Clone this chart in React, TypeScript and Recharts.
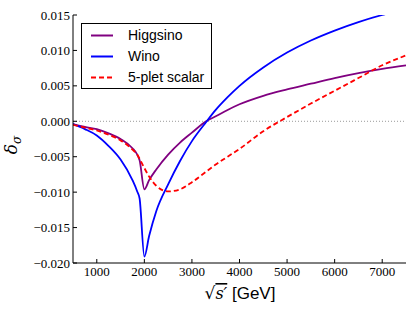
import { LineChart, Line, XAxis, YAxis, ReferenceLine, Legend } from "recharts";

const energy = [
  500, 750, 1000, 1250, 1500, 1750, 1850, 1900, 2000, 2100, 2250, 2500, 2750, 3000, 3300, 3500, 3750,
  4000, 4500, 5000, 5500, 6000, 6500, 7000, 7500,
];

const higgsino = [
  -0.0004, -0.0008, -0.0011, -0.0017, -0.0025, -0.0038, -0.0047, -0.0055, -0.0096, -0.0083, -0.0068,
  -0.0047, -0.003, -0.0016, 0.0, 0.0007, 0.0016, 0.0024, 0.0036, 0.0045, 0.0053, 0.0061, 0.0068,
  0.0074, 0.0079,
];

const wino = [
  -0.0004, -0.0011, -0.002, -0.0035, -0.0054, -0.0083, -0.0099, -0.0109, -0.0191, -0.0162, -0.0127,
  -0.0089, -0.0056, -0.0028, -0.0001, 0.0016, 0.0034, 0.005, 0.0076, 0.0097, 0.0114, 0.0128, 0.014,
  0.015, 0.0159,
];

const scalar5 = [
  -0.0005, -0.0009, -0.0013, -0.0019, -0.0027, -0.004, -0.0047, -0.0053, -0.0066, -0.0078, -0.0091,
  -0.0099, -0.0096, -0.0086, -0.0071, -0.0061, -0.005, -0.0039, -0.0014, 0.0006, 0.0025, 0.0043,
  0.0061, 0.0079, 0.0093,
];

const seriesNames = ["Higgsino", "Wino", "5-plet scalar"];
const xTicks = [1000, 2000, 3000, 4000, 5000, 6000, 7000];
const yTicks = [-0.02, -0.015, -0.01, -0.005, 0, 0.005, 0.01, 0.015];

const data = energy.map((e, i) => ({
  e,
  higgsino: higgsino[i],
  wino: wino[i],
  scalar5: scalar5[i],
}));

const tickFont = { fontFamily: "'Liberation Serif', serif", fontSize: 13, fill: "#000" };

const fmtY = (v: number) => v.toFixed(3).replace("-", "\u2212");

const LegendBox = ({ payload }: any) => {
  const items = [...(payload || [])].sort(
    (a: any, b: any) => seriesNames.indexOf(a.value) - seriesNames.indexOf(b.value)
  );
  return (
    <div
      style={{
        border: "1px solid #000",
        background: "#fff",
        width: 129,
        height: 64,
        fontFamily: "'Liberation Sans', Arial, sans-serif",
        fontSize: 14,
        lineHeight: "16px",
      }}
    >
      {items.map((p: any, i: number) => (
        <div key={p.value} style={{ position: "relative", height: 21, marginTop: i === 0 ? 1 : 0 }}>
          <svg width={40} height={21} style={{ position: "absolute", left: 0, top: 0 }}>
            <line
              x1={9}
              x2={31}
              y1={10.5}
              y2={10.5}
              stroke={p.color}
              strokeWidth={2}
              strokeDasharray={p.payload?.strokeDasharray}
            />
          </svg>
          <span style={{ position: "absolute", left: 46, top: 2, color: "#000", whiteSpace: "nowrap" }}>
            {p.value}
          </span>
        </div>
      ))}
    </div>
  );
};

export default function App() {
  return (
    <div style={{ position: "absolute", left: 0, top: 0 }}>
      <LineChart width={415} height={312} data={data} margin={{ top: 15, right: 9, bottom: 0, left: 0 }}>
        <XAxis
          dataKey="e"
          type="number"
          domain={[500, 7500]}
          ticks={xTicks}
          allowDataOverflow
          height={49}
          stroke="#000"
          tickSize={-4}
          tickMargin={8}
          tick={tickFont}
          label={{
            content: () => (
              <text x={240} y={299} textAnchor="middle" fill="#000">
                <tspan fontFamily="'DejaVu Serif', serif" fontSize={17}>
                  {"\u221A"}
                </tspan>
                <tspan
                  fontFamily="'DejaVu Serif', serif"
                  fontStyle="italic"
                  fontSize={16}
                  style={{ textDecoration: "overline" }}
                >
                  {"s\u2032"}
                </tspan>
                <tspan fontFamily="'Liberation Sans', Arial, sans-serif" fontSize={17}>
                  {" [GeV]"}
                </tspan>
              </text>
            ),
          }}
        />
        <XAxis
          xAxisId="top"
          dataKey="e"
          type="number"
          orientation="top"
          domain={[500, 7500]}
          ticks={xTicks}
          allowDataOverflow
          height={0}
          stroke="#000"
          tickSize={-4}
          tick={false}
        />
        <YAxis
          type="number"
          domain={[-0.02, 0.015]}
          ticks={yTicks}
          allowDataOverflow
          width={73}
          stroke="#000"
          tickSize={-4}
          tickMargin={7}
          tick={tickFont}
          tickFormatter={fmtY}
          label={{
            content: () => (
              <text
                x={17}
                y={145}
                transform="rotate(-90 17 145)"
                textAnchor="middle"
                fill="#000"
                fontFamily="'DejaVu Serif', serif"
                fontStyle="italic"
                fontSize={17}
              >
                {"\u03B4"}
                <tspan fontSize={12} dy={4}>
                  {"\u03C3"}
                </tspan>
              </text>
            ),
          }}
        />
        <YAxis
          yAxisId="right"
          orientation="right"
          type="number"
          domain={[-0.02, 0.015]}
          ticks={yTicks}
          allowDataOverflow
          width={0}
          stroke="#000"
          tickSize={-4}
          tick={false}
        />
        <ReferenceLine y={0} stroke="#999" strokeDasharray="1 2" strokeWidth={1} />
        <Legend
          layout="vertical"
          verticalAlign="middle"
          align="center"
          content={<LegendBox />}
          wrapperStyle={{ position: "absolute", left: 81, top: 23, width: 131, height: 66 }}
        />
        <Line
          name="Higgsino"
          dataKey="higgsino"
          type="monotone"
          stroke="#800080"
          strokeWidth={1.8}
          dot={false}
          isAnimationActive={false}
        />
        <Line
          name="Wino"
          dataKey="wino"
          type="monotone"
          stroke="#0000ff"
          strokeWidth={1.8}
          dot={false}
          isAnimationActive={false}
        />
        <Line
          name="5-plet scalar"
          dataKey="scalar5"
          type="monotone"
          stroke="#ff0000"
          strokeWidth={1.8}
          strokeDasharray="5 3"
          dot={false}
          isAnimationActive={false}
        />
      </LineChart>
    </div>
  );
}
